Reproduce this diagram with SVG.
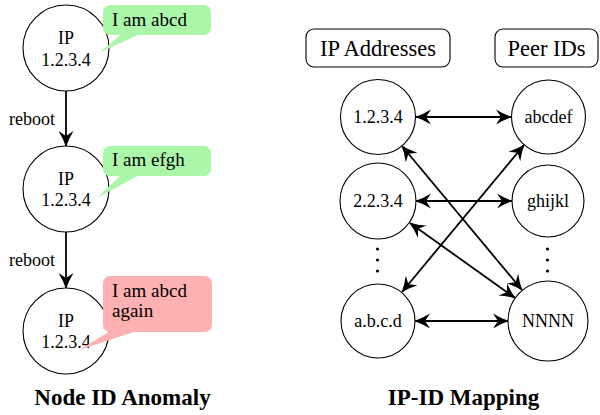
<svg xmlns="http://www.w3.org/2000/svg" width="600" height="415" viewBox="0 0 600 415">
<style>
.t18{font-size:18px}
.t19{font-size:19px}
.lbl{font-size:22.5px}
.title{font-size:23px;font-weight:bold}
.node{fill:#fff;stroke:#000;stroke-width:1.1}
.edge{stroke:#000;stroke-width:1.8;fill:none}
.box{fill:#fff;stroke:#000;stroke-width:1.1}
.green{fill:#aaf7aa}
.pink{fill:#ffb1b1}
</style>
<defs>
<marker id="ah" viewBox="-16 -9 18 18" refX="0" refY="0" markerWidth="18" markerHeight="18" markerUnits="userSpaceOnUse" orient="auto-start-reverse">
<path d="M1,0 Q-7,-2.5 -15,-7.5 L-10,0 L-15,7.5 Q-7,2.5 1,0 Z" fill="#000"/>
</marker>
</defs>

<g id="connectors">
<line class="edge" x1="66" y1="91" x2="66" y2="146" marker-end="url(#ah)"/>
<line class="edge" x1="66" y1="232" x2="66" y2="288" marker-end="url(#ah)"/>
<line class="edge" x1="416" y1="117" x2="511" y2="117" marker-start="url(#ah)" marker-end="url(#ah)"/>
<line class="edge" x1="416" y1="201" x2="512" y2="201" marker-start="url(#ah)" marker-end="url(#ah)"/>
<line class="edge" x1="415" y1="321" x2="508" y2="321" marker-start="url(#ah)" marker-end="url(#ah)"/>
<line class="edge" x1="402" y1="146" x2="522" y2="290" marker-start="url(#ah)" marker-end="url(#ah)"/>
<line class="edge" x1="410" y1="223" x2="515" y2="298" marker-start="url(#ah)" marker-end="url(#ah)"/>
<line class="edge" x1="524" y1="145" x2="402" y2="292" marker-start="url(#ah)" marker-end="url(#ah)"/>
<text class="t18" x="9" y="125" font-family="serif">reboot</text>
<text class="t18" x="9" y="266" font-family="serif">reboot</text>
</g>

<g id="ip1">
<circle class="node" cx="66" cy="48" r="43"/>
<text class="t18" x="66" y="44" text-anchor="middle" font-family="serif">IP</text>
<text class="t18" x="66" y="66" text-anchor="middle" font-family="serif">1.2.3.4</text>
</g>
<g id="bubble1">
<rect class="green" x="103" y="5" width="108" height="30" rx="7"/>
<polygon class="green" points="99,53 123,33 142,33"/>
<text class="t19" x="112" y="26" font-family="serif">I am abcd</text>
</g>

<g id="ip2">
<circle class="node" cx="66" cy="189" r="43"/>
<text class="t18" x="66" y="185" text-anchor="middle" font-family="serif">IP</text>
<text class="t18" x="66" y="206" text-anchor="middle" font-family="serif">1.2.3.4</text>
</g>
<g id="bubble2">
<rect class="green" x="103" y="146" width="108" height="30" rx="7"/>
<polygon class="green" points="97,198 122,174 141,174"/>
<text class="t19" x="112" y="166" font-family="serif">I am efgh</text>
</g>

<g id="ip3">
<circle class="node" cx="66" cy="331" r="43"/>
<text class="t18" x="66" y="327" text-anchor="middle" font-family="serif">IP</text>
<text class="t18" x="66" y="348" text-anchor="middle" font-family="serif">1.2.3.4</text>
</g>
<g id="bubble3">
<rect class="pink" x="103" y="276" width="109" height="56" rx="7"/>
<polygon class="pink" points="79,350 112,330 140,330"/>
<text class="t19" x="112" y="297" font-family="serif">I am abcd</text>
<text class="t19" x="112" y="317" font-family="serif">again</text>
</g>

<g id="hdr-ip">
<rect class="box" x="306" y="29" width="144" height="38" rx="8"/>
<text class="lbl" x="378" y="56" text-anchor="middle" font-family="serif">IP Addresses</text>
</g>
<g id="hdr-peer">
<rect class="box" x="495" y="29" width="103" height="38" rx="8"/>
<text class="lbl" x="546.5" y="56" text-anchor="middle" font-family="serif">Peer IDs</text>
</g>

<g id="a1234">
<circle class="node" cx="378" cy="117" r="37.5"/>
<text class="t18" x="378" y="123" text-anchor="middle" font-family="serif">1.2.3.4</text>
</g>
<g id="a2234">
<circle class="node" cx="378" cy="201" r="38"/>
<text class="t18" x="378" y="207" text-anchor="middle" font-family="serif">2.2.3.4</text>
</g>
<g id="aabcd">
<circle class="node" cx="378" cy="321" r="37"/>
<text class="t18" x="378" y="327" text-anchor="middle" font-family="serif">a.b.c.d</text>
</g>
<g id="pabcdef">
<circle class="node" cx="548.5" cy="117" r="37"/>
<text class="t18" x="548.5" y="123" text-anchor="middle" font-family="serif">abcdef</text>
</g>
<g id="pghijkl">
<circle class="node" cx="548" cy="201" r="36"/>
<text class="t18" x="548" y="207" text-anchor="middle" font-family="serif">ghijkl</text>
</g>
<g id="pnnnn">
<circle class="node" cx="548" cy="321" r="40"/>
<text class="t18" x="548" y="327" text-anchor="middle" font-family="serif">NNNN</text>
</g>
<g id="dots-left">
<circle cx="377.5" cy="249" r="1.6"/>
<circle cx="377.5" cy="260" r="1.6"/>
<circle cx="377.5" cy="271" r="1.6"/>
</g>
<g id="dots-right">
<circle cx="547.5" cy="249" r="1.6"/>
<circle cx="547.5" cy="260" r="1.6"/>
<circle cx="547.5" cy="271" r="1.6"/>
</g>

<text class="title" x="122.5" y="405" text-anchor="middle" font-family="serif">Node ID Anomaly</text>
<text class="title" x="463.5" y="405" text-anchor="middle" font-family="serif">IP-ID Mapping</text>
</svg>
